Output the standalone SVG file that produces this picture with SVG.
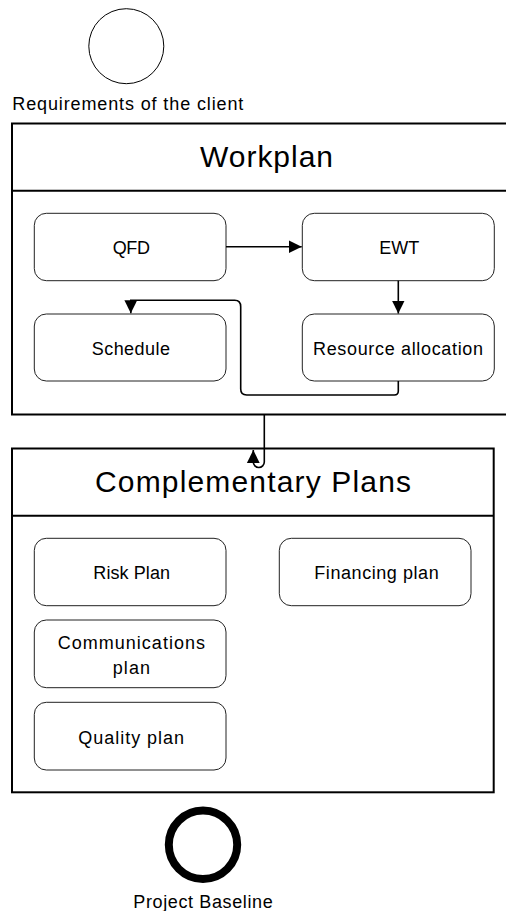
<svg xmlns="http://www.w3.org/2000/svg" width="506" height="911" viewBox="0 0 506 911">
<style>
text{font-family:"Liberation Sans",Arial,sans-serif;fill:#000}
.lbl{font-size:18px}
.hdr{font-size:30px}
.task{fill:#fff;stroke:#222;stroke-width:1}
.pool{fill:#fff;stroke:#000;stroke-width:2}
.conn{fill:none;stroke:#000;stroke-width:1.6}
</style>
<defs>
<marker id="ah" markerUnits="userSpaceOnUse" markerWidth="14" markerHeight="14" viewBox="0 0 14 14" refX="13" refY="7" orient="auto">
<path d="M0,0.6 L13,7 L0,13.4 Z" fill="#000"/>
</marker>
</defs>

<g id="start">
<circle cx="126.3" cy="46.2" r="37.5" fill="#fff" stroke="#000" stroke-width="1"/>
<text class="lbl" x="12.3" y="109.5" textLength="231" lengthAdjust="spacing">Requirements of the client</text>
</g>

<g id="workplan">
<rect class="pool" x="12" y="123.5" width="510" height="291"/>
<line x1="12" y1="190.7" x2="522" y2="190.7" stroke="#000" stroke-width="2"/>
<text class="hdr" x="200" y="167" textLength="133" lengthAdjust="spacing">Workplan</text>
</g>

<g id="complementary">
<rect class="pool" x="12" y="448.5" width="481.7" height="343.8"/>
<line x1="12" y1="515.7" x2="493.7" y2="515.7" stroke="#000" stroke-width="2"/>
<text class="hdr" x="95" y="491.7" textLength="316" lengthAdjust="spacing">Complementary Plans</text>
</g>

<g id="qfd">
<rect class="task" x="34.3" y="213.3" width="191.7" height="67.4" rx="12"/>
<text class="lbl" x="112.7" y="253.8" textLength="37.3" lengthAdjust="spacing">QFD</text>
</g>
<g id="ewt">
<rect class="task" x="302.3" y="213.3" width="192" height="67.4" rx="12"/>
<text class="lbl" x="379.3" y="253.8" textLength="40" lengthAdjust="spacing">EWT</text>
</g>
<g id="schedule">
<rect class="task" x="34.3" y="314" width="191.7" height="67" rx="12"/>
<text class="lbl" x="91.7" y="355" textLength="78.3" lengthAdjust="spacing">Schedule</text>
</g>
<g id="resource">
<rect class="task" x="302.3" y="314" width="192" height="67" rx="12"/>
<text class="lbl" x="313" y="355" textLength="170" lengthAdjust="spacing">Resource allocation</text>
</g>

<g id="risk">
<rect class="task" x="34.3" y="538.3" width="191.7" height="67.4" rx="12"/>
<text class="lbl" x="93.3" y="578.5" textLength="76.7" lengthAdjust="spacing">Risk Plan</text>
</g>
<g id="financing">
<rect class="task" x="279.3" y="538.3" width="191.7" height="67.4" rx="12"/>
<text class="lbl" x="314.3" y="578.5" textLength="124.4" lengthAdjust="spacing">Financing plan</text>
</g>
<g id="communications">
<rect class="task" x="34.3" y="620" width="191.7" height="67.7" rx="12"/>
<text class="lbl" x="57.7" y="649.3" textLength="147.3" lengthAdjust="spacing">Communications</text>
<text class="lbl" x="112.7" y="674.3" textLength="37.3" lengthAdjust="spacing">plan</text>
</g>
<g id="quality">
<rect class="task" x="34.3" y="702.3" width="191.7" height="67.7" rx="12"/>
<text class="lbl" x="78.3" y="744.3" textLength="105.7" lengthAdjust="spacing">Quality plan</text>
</g>

<g id="end">
<circle cx="203" cy="844.8" r="34.2" fill="#fff" stroke="#000" stroke-width="8"/>
<text class="lbl" x="133.3" y="907.5" textLength="139.4" lengthAdjust="spacing">Project Baseline</text>
</g>

<g id="connectors">
<path class="conn" d="M226,246.7 H301.7" marker-end="url(#ah)"/>
<path class="conn" d="M398.3,280.7 V313.5" marker-end="url(#ah)"/>
<path class="conn" d="M398.3,381 V391 Q398.3,395 394.3,395 H246.7 Q240.7,395 240.7,389 V306.7 Q240.7,300.3 234.7,300.3 H130.8 V313.3" marker-end="url(#ah)"/>
<path class="conn" d="M264.3,414.5 V462 A5.5,5.5 0 0 1 253.3,462 V450" marker-end="url(#ah)"/>
</g>
</svg>
